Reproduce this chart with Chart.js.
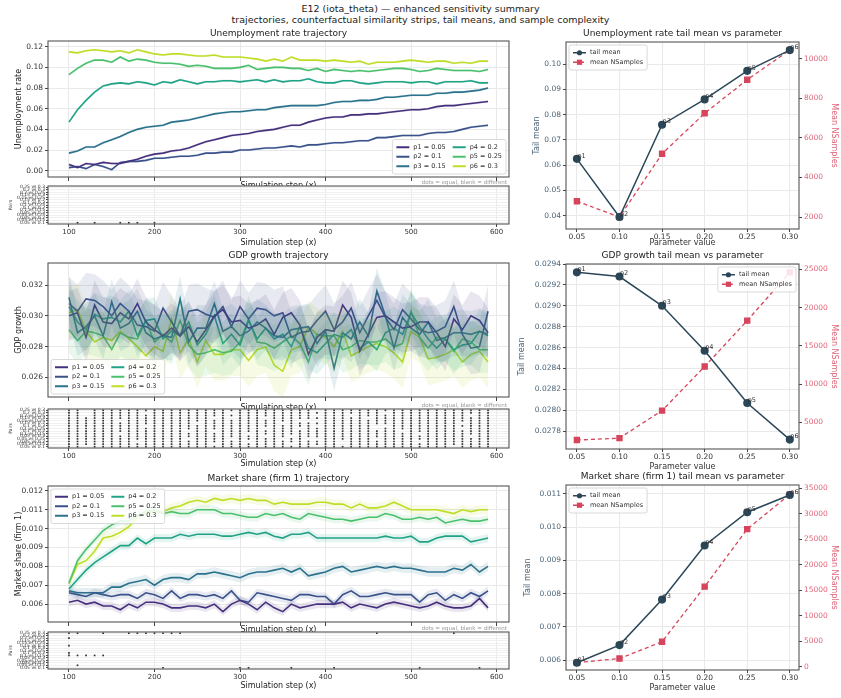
<!DOCTYPE html>
<html>
<head>
<meta charset="utf-8">
<script src="https://cdn.jsdelivr.net/npm/chart.js@4.4.0/dist/chart.umd.min.js"></script>
<style>
  body { margin: 0; width: 841px; height: 698px; position: relative; overflow: hidden; background: #fff; font-family: "DejaVu Sans", sans-serif; }
  canvas { position: absolute; }
  #suptitle { position: absolute; left: 0; top: 3px; width: 841px; text-align: center; font-size: 9.5px; line-height: 11px; color: #222; }
</style>
</head>
<body>
<div id="suptitle">E12 (iota_theta) — enhanced sensitivity summary<br>trajectories, counterfactual similarity strips, tail means, and sample complexity</div>
<script>
// ---- data ----
const steps = [100,110,120,130,140,150,160,170,180,190,200,210,220,230,240,250,260,270,280,290,
               300,310,320,330,340,350,360,370,380,390,400,410,420,430,440,450,460,470,480,490,
               500,510,520,530,540,550,560,570,580,590];
const xTicks = [100, 200, 300, 400, 500, 600];
const paramValues = [0.05, 0.1, 0.15, 0.2, 0.25, 0.3];
const paramNames = ['p1', 'p2', 'p3', 'p4', 'p5', 'p6'];
const seriesLabels = ['p1 = 0.05', 'p2 = 0.1', 'p3 = 0.15', 'p4 = 0.2', 'p5 = 0.25', 'p6 = 0.3'];
const pairLabels = ['0.05 vs 0.1','0.05 vs 0.15','0.05 vs 0.2','0.05 vs 0.25','0.05 vs 0.3',
                    '0.1 vs 0.15','0.1 vs 0.2','0.1 vs 0.25','0.1 vs 0.3','0.15 vs 0.2',
                    '0.15 vs 0.25','0.15 vs 0.3','0.2 vs 0.25','0.2 vs 0.3','0.25 vs 0.3'];

// unemployment rate trajectories
const unempP1 = [0.006,0.003,0.007,0.006,0.008,0.007,0.007,0.009,0.011,0.014,0.016,0.017,0.019,0.020,0.022,0.025,0.028,0.030,0.032,0.034,
                 0.035,0.036,0.038,0.039,0.040,0.042,0.044,0.044,0.047,0.049,0.051,0.052,0.052,0.054,0.054,0.055,0.055,0.056,0.057,0.058,
                 0.059,0.059,0.060,0.062,0.063,0.063,0.064,0.065,0.066,0.067];
const unempP2 = [0.003,0.004,0.002,0.006,0.004,0.001,0.008,0.009,0.009,0.010,0.012,0.012,0.013,0.014,0.014,0.015,0.017,0.017,0.018,0.018,
                 0.020,0.020,0.021,0.022,0.022,0.023,0.024,0.023,0.025,0.025,0.026,0.027,0.027,0.028,0.029,0.029,0.032,0.032,0.033,0.034,
                 0.034,0.034,0.036,0.037,0.037,0.038,0.040,0.042,0.043,0.044];
const unempP3 = [0.017,0.019,0.023,0.023,0.027,0.030,0.033,0.037,0.040,0.042,0.043,0.044,0.047,0.048,0.049,0.051,0.053,0.055,0.056,0.057,
                 0.057,0.058,0.059,0.059,0.061,0.062,0.063,0.063,0.063,0.063,0.064,0.066,0.067,0.067,0.068,0.068,0.069,0.071,0.071,0.072,
                 0.073,0.073,0.073,0.075,0.075,0.076,0.076,0.077,0.078,0.080];
const unempP4 = [0.047,0.059,0.068,0.076,0.082,0.084,0.085,0.084,0.086,0.085,0.083,0.086,0.085,0.088,0.086,0.084,0.086,0.086,0.087,0.087,
                 0.086,0.087,0.088,0.086,0.088,0.086,0.087,0.087,0.089,0.086,0.085,0.085,0.087,0.087,0.085,0.084,0.085,0.086,0.086,0.086,
                 0.085,0.086,0.086,0.084,0.086,0.086,0.086,0.087,0.085,0.085];
const unempP5 = [0.093,0.099,0.104,0.107,0.107,0.105,0.110,0.106,0.108,0.107,0.105,0.104,0.104,0.103,0.101,0.102,0.101,0.099,0.099,0.099,
                 0.100,0.102,0.098,0.099,0.100,0.100,0.099,0.099,0.097,0.099,0.096,0.098,0.097,0.096,0.097,0.096,0.097,0.098,0.099,0.099,
                 0.098,0.096,0.097,0.099,0.098,0.097,0.097,0.097,0.096,0.098];
const unempP6 = [0.115,0.114,0.116,0.117,0.116,0.115,0.116,0.114,0.117,0.115,0.113,0.112,0.113,0.113,0.112,0.111,0.111,0.112,0.110,0.110,
                 0.110,0.109,0.108,0.106,0.108,0.106,0.110,0.107,0.107,0.107,0.106,0.107,0.106,0.105,0.106,0.103,0.105,0.105,0.105,0.106,
                 0.107,0.106,0.105,0.106,0.106,0.104,0.105,0.104,0.106,0.106];
const unempSpread = [0.0012, 0.0012, 0.0012, 0.0012, 0.0012, 0.0012];

// GDP growth trajectories
const gdpP1 = [0.0300,0.0302,0.0286,0.0307,0.0296,0.0295,0.0302,0.0298,0.0308,0.0296,0.0291,0.0287,0.0292,0.0287,0.0293,0.0283,0.0291,0.0300,0.0304,0.0296,
               0.0297,0.0292,0.0294,0.0298,0.0288,0.0299,0.0302,0.0294,0.0275,0.0286,0.0291,0.0290,0.0307,0.0299,0.0277,0.0288,0.0299,0.0300,0.0296,0.0292,
               0.0293,0.0296,0.0296,0.0289,0.0280,0.0298,0.0291,0.0300,0.0297,0.0289];
const gdpP2 = [0.0308,0.0303,0.0311,0.0310,0.0306,0.0300,0.0308,0.0303,0.0294,0.0293,0.0290,0.0305,0.0296,0.0287,0.0303,0.0304,0.0301,0.0299,0.0306,0.0293,
               0.0306,0.0298,0.0305,0.0304,0.0300,0.0302,0.0286,0.0289,0.0290,0.0297,0.0303,0.0291,0.0296,0.0305,0.0289,0.0300,0.0310,0.0299,0.0291,0.0304,
               0.0298,0.0291,0.0289,0.0290,0.0293,0.0306,0.0288,0.0279,0.0280,0.0303];
const gdpP3 = [0.0312,0.0289,0.0293,0.0300,0.0287,0.0309,0.0292,0.0295,0.0303,0.0289,0.0285,0.0287,0.0286,0.0311,0.0283,0.0292,0.0292,0.0308,0.0290,0.0293,
               0.0287,0.0290,0.0296,0.0292,0.0287,0.0286,0.0291,0.0292,0.0293,0.0282,0.0290,0.0266,0.0289,0.0285,0.0296,0.0287,0.0316,0.0300,0.0279,0.0299,
               0.0292,0.0288,0.0296,0.0284,0.0286,0.0289,0.0289,0.0288,0.0290,0.0288];
const gdpP4 = [0.0306,0.0296,0.0291,0.0301,0.0298,0.0299,0.0296,0.0303,0.0287,0.0297,0.0298,0.0285,0.0290,0.0287,0.0296,0.0281,0.0288,0.0300,0.0282,0.0288,
               0.0281,0.0297,0.0285,0.0292,0.0285,0.0288,0.0280,0.0293,0.0279,0.0276,0.0282,0.0288,0.0286,0.0291,0.0279,0.0283,0.0278,0.0289,0.0292,0.0288,
               0.0302,0.0293,0.0285,0.0279,0.0285,0.0278,0.0281,0.0282,0.0290,0.0287];
const gdpP5 = [0.0291,0.0284,0.0290,0.0289,0.0287,0.0278,0.0289,0.0286,0.0285,0.0297,0.0283,0.0288,0.0283,0.0297,0.0281,0.0275,0.0276,0.0278,0.0276,0.0277,
               0.0283,0.0298,0.0283,0.0282,0.0279,0.0283,0.0287,0.0282,0.0270,0.0288,0.0287,0.0287,0.0278,0.0280,0.0284,0.0283,0.0283,0.0285,0.0280,0.0282,
               0.0303,0.0286,0.0279,0.0286,0.0285,0.0277,0.0285,0.0283,0.0278,0.0278];
const gdpP6 = [0.0302,0.0304,0.0290,0.0283,0.0286,0.0284,0.0290,0.0285,0.0280,0.0274,0.0280,0.0277,0.0298,0.0276,0.0285,0.0270,0.0284,0.0275,0.0275,0.0278,
               0.0278,0.0271,0.0278,0.0280,0.0268,0.0264,0.0278,0.0280,0.0293,0.0288,0.0286,0.0280,0.0290,0.0274,0.0277,0.0280,0.0282,0.0280,0.0276,0.0270,
               0.0290,0.0286,0.0272,0.0273,0.0275,0.0278,0.0270,0.0275,0.0277,0.0270];
const gdpSpread = [0.0016, 0.0017, 0.0015, 0.0014, 0.0015, 0.0017];

// market share (firm 1) trajectories
const shareP1 = [0.0061,0.0062,0.0060,0.0061,0.0059,0.0059,0.0057,0.0060,0.0058,0.0061,0.0061,0.0060,0.0058,0.0058,0.0059,0.0059,0.0058,0.0060,0.0056,0.0060,
                 0.0062,0.0060,0.0057,0.0061,0.0058,0.0056,0.0060,0.0058,0.0059,0.0060,0.0060,0.0060,0.0061,0.0058,0.0060,0.0059,0.0058,0.0060,0.0061,0.0060,
                 0.0059,0.0058,0.0059,0.0061,0.0059,0.0058,0.0058,0.0059,0.0063,0.0058];
const shareP2 = [0.0066,0.0065,0.0064,0.0066,0.0065,0.0064,0.0065,0.0065,0.0063,0.0066,0.0065,0.0063,0.0067,0.0063,0.0065,0.0065,0.0064,0.0065,0.0063,0.0067,
                 0.0062,0.0061,0.0066,0.0065,0.0064,0.0063,0.0062,0.0065,0.0065,0.0064,0.0064,0.0060,0.0065,0.0067,0.0064,0.0064,0.0065,0.0066,0.0065,0.0065,
                 0.0065,0.0061,0.0065,0.0066,0.0062,0.0065,0.0063,0.0066,0.0064,0.0067];
const shareP3 = [0.0067,0.0066,0.0066,0.0066,0.0066,0.0069,0.0069,0.0071,0.0072,0.0073,0.0070,0.0073,0.0074,0.0074,0.0073,0.0076,0.0076,0.0077,0.0076,0.0075,
                 0.0074,0.0076,0.0077,0.0077,0.0078,0.0079,0.0077,0.0079,0.0075,0.0076,0.0077,0.0079,0.0080,0.0077,0.0078,0.0079,0.0080,0.0079,0.0080,0.0079,
                 0.0079,0.0078,0.0077,0.0077,0.0077,0.0079,0.0078,0.0081,0.0077,0.0080];
const shareP4 = [0.0068,0.0073,0.0078,0.0082,0.0085,0.0088,0.0091,0.0091,0.0095,0.0092,0.0095,0.0095,0.0095,0.0097,0.0096,0.0097,0.0097,0.0097,0.0096,0.0096,
                 0.0097,0.0098,0.0097,0.0098,0.0096,0.0095,0.0097,0.0097,0.0098,0.0095,0.0095,0.0095,0.0095,0.0095,0.0095,0.0095,0.0095,0.0096,0.0095,0.0095,
                 0.0096,0.0093,0.0093,0.0095,0.0096,0.0096,0.0096,0.0093,0.0094,0.0095];
const shareP5 = [0.0071,0.0083,0.0089,0.0094,0.0099,0.0102,0.0104,0.0104,0.0107,0.0109,0.0110,0.0108,0.0109,0.0108,0.0108,0.0110,0.0110,0.0110,0.0108,0.0108,
                 0.0107,0.0106,0.0106,0.0108,0.0107,0.0108,0.0106,0.0105,0.0108,0.0107,0.0106,0.0105,0.0105,0.0104,0.0105,0.0106,0.0106,0.0108,0.0107,0.0105,
                 0.0105,0.0106,0.0105,0.0106,0.0103,0.0104,0.0105,0.0104,0.0104,0.0105];
const shareP6 = [0.0071,0.0081,0.0083,0.0088,0.0095,0.0096,0.0098,0.0101,0.0106,0.0108,0.0109,0.0109,0.0111,0.0112,0.0114,0.0115,0.0114,0.0116,0.0115,0.0116,
                 0.0115,0.0116,0.0115,0.0115,0.0113,0.0114,0.0113,0.0113,0.0113,0.0114,0.0114,0.0113,0.0113,0.0111,0.0113,0.0111,0.0111,0.0112,0.0114,0.0112,
                 0.0110,0.0110,0.0110,0.0110,0.0109,0.0108,0.0110,0.0109,0.0110,0.0110];
const shareSpread = [0.00022, 0.00022, 0.00025, 0.00022, 0.00022, 0.00025];

// similarity strips: steps where a pair is "equal" (pair index -> steps)
const unempEqual = { 0: [110, 130, 160, 170, 180, 200] };
const shareEqual = {
  0: [210, 300, 310, 360, 410, 510, 580],
  1: [110],
  5: [100, 110, 120, 130, 140],
  6: [100],
  9: [100],
  12: [100],
  14: [100, 110, 140, 170, 180, 190, 200, 210, 220, 230, 460, 550]
};
// GDP strip: one string per step, char k = pair k (1 = equal)
const gdpEqualCols = [
  '111111111111111','111111111111111','011111111111000','111111111111111','111111111111111',
  '111111111111111','111110111101111','111111111111111','110111111111111','111111110111101',
  '111111111111111','111111111111111','111111111111111','111111111111111','111011011111111',
  '111111111011111','111111111111111','101111011110111','111111111111111','111011111110101',
  '111111111111111','110110111111111','111111111111111','111101101110111','111111111111111',
  '111011111011111','101101111111111','111111101101111','111011111101111','011011110101010',
  '111111111111111','111111111111111','100111111111111','111111111111011','111111111111111',
  '111111111110111','111011100111111','111111110111101','111111111111111','111111011111111',
  '111111111111111','110110111111111','111111111111111','111111111111111','111111111111111',
  '011111111111111','111111101011111','111101111111011','111111111111111','111111111111111'
];

// tail means and sample complexity
const unempTail = [0.0625, 0.0395, 0.0760, 0.0860, 0.0973, 0.1055];
const unempNSamples = [2800, 2000, 5200, 7250, 8950, 10450];
const gdpTail = [0.02932, 0.02928, 0.02900, 0.02857, 0.02807, 0.02772];
const gdpNSamples = [2700, 2950, 6550, 12300, 18300, 24600];
const shareTail = [0.00592, 0.00645, 0.00782, 0.00945, 0.01045, 0.01097];
const shareNSamples = [800, 1600, 4900, 15700, 27000, 33800];

// ---- style ----
const seriesColors = ['#46307e', '#3b528b', '#2c728e', '#20a386', '#4ac16d', '#bddf26'];
const tailColor = '#2b4657';
const nsColor = '#d6455b';
const gridColor = '#e9e9e9';

Chart.defaults.font.family = '"DejaVu Sans", sans-serif';
Chart.defaults.color = '#333';
Chart.defaults.animation = false;

function withAlpha(hex, a) {
  const n = parseInt(hex.slice(1), 16);
  return 'rgba(' + (n >> 16) + ',' + ((n >> 8) & 255) + ',' + (n & 255) + ',' + a + ')';
}

function makeCanvas(left, top, w, h) {
  const c = document.createElement('canvas');
  c.width = w; c.height = h;
  c.style.left = left + 'px'; c.style.top = top + 'px';
  c.style.width = w + 'px'; c.style.height = h + 'px';
  document.body.appendChild(c);
  return c.getContext('2d');
}

// frame, panel title and the small note above strips
const framePlugin = {
  id: 'frame',
  beforeDraw(chart, args, o) {
    if (!o.white) return;
    const a = chart.chartArea, ctx = chart.ctx;
    ctx.save();
    ctx.fillStyle = '#fff';
    ctx.fillRect(a.left, a.top, a.width, a.height);
    ctx.restore();
  },
  afterDraw(chart, args, o) {
    const a = chart.chartArea, ctx = chart.ctx;
    ctx.save();
    ctx.strokeStyle = '#555';
    ctx.lineWidth = 1.1;
    ctx.strokeRect(a.left, a.top, a.width, a.height);
    if (o.title) {
      ctx.fillStyle = '#222';
      ctx.font = '9px "DejaVu Sans"';
      ctx.textAlign = 'center';
      ctx.textBaseline = 'middle';
      ctx.fillText(o.title, (a.left + a.right) / 2, a.top - o.titleGap);
    }
    if (o.note) {
      ctx.fillStyle = '#999';
      ctx.font = '5.5px "DejaVu Sans"';
      ctx.textAlign = 'right';
      ctx.textBaseline = 'bottom';
      ctx.fillText(o.note, a.right - 2, a.top - 1);
    }
    ctx.restore();
  }
};

// legend drawn in a box inside the plot area
const boxLegend = {
  id: 'boxLegend',
  afterDatasetsDraw(chart, args, o) {
    if (!o.items) return;
    const a = chart.chartArea, ctx = chart.ctx;
    ctx.save();
    ctx.font = '6.5px "DejaVu Sans"';
    const cols = o.cols || 1;
    const rows = Math.ceil(o.items.length / cols);
    const lineLen = 13, gap = 4, rowH = 9.5, padX = 4, padY = 3, colGap = 7;
    const colW = [];
    o.items.forEach((it, i) => {
      const c = Math.floor(i / rows);
      colW[c] = Math.max(colW[c] || 0, ctx.measureText(it.label).width);
    });
    let w = padX * 2 + colGap * (cols - 1);
    colW.forEach(cw => { w += lineLen + gap + cw; });
    const h = padY * 2 + rows * rowH;
    const inset = 3;
    const x0 = o.corner[1] === 'l' ? a.left + inset : a.right - inset - w;
    const y0 = o.corner[0] === 'u' ? a.top + inset : a.bottom - inset - h;
    ctx.fillStyle = 'rgba(255,255,255,0.85)';
    ctx.strokeStyle = '#cfcfcf';
    ctx.lineWidth = 0.8;
    ctx.beginPath();
    ctx.roundRect(x0, y0, w, h, 2);
    ctx.fill();
    ctx.stroke();
    o.items.forEach((it, i) => {
      const c = Math.floor(i / rows), r = i % rows;
      let x = x0 + padX;
      for (let k = 0; k < c; k++) x += lineLen + gap + colW[k] + colGap;
      const y = y0 + padY + r * rowH + rowH / 2;
      ctx.strokeStyle = it.color;
      ctx.lineWidth = it.width || 2;
      ctx.setLineDash(it.dash || []);
      ctx.beginPath();
      ctx.moveTo(x, y);
      ctx.lineTo(x + lineLen, y);
      ctx.stroke();
      ctx.setLineDash([]);
      ctx.fillStyle = it.color;
      if (it.marker === 'circle') {
        ctx.beginPath();
        ctx.arc(x + lineLen / 2, y, 2.6, 0, Math.PI * 2);
        ctx.fill();
      } else if (it.marker === 'rect') {
        ctx.fillRect(x + lineLen / 2 - 2.6, y - 2.6, 5.2, 5.2);
      }
      ctx.fillStyle = '#333';
      ctx.textAlign = 'left';
      ctx.textBaseline = 'middle';
      ctx.fillText(it.label, x + lineLen + gap, y);
    });
    ctx.restore();
  }
};

// "p1".."p6" labels next to the tail mean points
const pointNames = {
  id: 'pointNames',
  afterDatasetsDraw(chart, args, o) {
    if (!o.labels) return;
    const ctx = chart.ctx;
    const meta = chart.getDatasetMeta(o.datasetIndex);
    ctx.save();
    ctx.font = '6.5px "DejaVu Sans"';
    ctx.fillStyle = '#333';
    ctx.textAlign = 'left';
    ctx.textBaseline = 'middle';
    meta.data.forEach((el, i) => ctx.fillText(o.labels[i], el.x + 0.5, el.y - 3));
    ctx.restore();
  }
};

Chart.register(framePlugin, boxLegend, pointNames);

const tickFont = { size: 7.5 };

function trajectoryChart(pos, series, spread, yMin, yMax, yTicks, digits, yTitle, title, corner) {
  const datasets = [];
  series.forEach((vals, i) => {
    datasets.push({
      data: steps.map((s, k) => ({ x: s, y: vals[k] + spread[i] })),
      borderWidth: 0, pointRadius: 0, fill: '+1',
      backgroundColor: withAlpha(seriesColors[i], 0.12)
    });
    datasets.push({
      data: steps.map((s, k) => ({ x: s, y: vals[k] - spread[i] })),
      borderWidth: 0, pointRadius: 0, fill: false
    });
  });
  series.forEach((vals, i) => {
    datasets.push({
      data: steps.map((s, k) => ({ x: s, y: vals[k] })),
      borderColor: seriesColors[i], borderWidth: 1.6, pointRadius: 0, fill: false
    });
  });
  const ctx = makeCanvas(pos.left, pos.top, pos.w, pos.h);
  return new Chart(ctx, {
    type: 'line',
    data: { datasets: datasets },
    options: {
      responsive: false,
      layout: { padding: { top: pos.padTop, right: pos.padRight, left: 0, bottom: 0 } },
      scales: {
        x: {
          type: 'linear', min: 75.5, max: 614.5,
          afterBuildTicks: s => { s.ticks = xTicks.map(v => ({ value: v })); },
          ticks: { display: false },
          grid: { color: gridColor, tickColor: '#444', tickLength: 4 },
          border: { display: false },
          title: { display: true, text: 'Simulation step (x)', font: { size: 8 }, color: '#222', padding: { top: 0, bottom: 2 } },
          afterFit: s => { s.height = pos.xH; }
        },
        y: {
          min: yMin, max: yMax,
          afterBuildTicks: s => { s.ticks = yTicks.map(v => ({ value: v })); },
          ticks: { font: tickFont, padding: 2, callback: v => v.toFixed(digits) },
          grid: { color: gridColor, tickColor: '#444', tickLength: 3 },
          border: { display: false },
          title: { display: true, text: yTitle, font: { size: 8 }, color: '#222', padding: { top: 14, bottom: 0 } },
          afterFit: s => { s.width = 48; }
        }
      },
      plugins: {
        legend: { display: false },
        tooltip: { enabled: false },
        frame: { title: title, titleGap: 7 },
        boxLegend: {
          corner: corner, cols: 2,
          items: seriesLabels.map((l, i) => ({ label: l, color: seriesColors[i] }))
        }
      }
    }
  });
}

function stripChart(pos, points) {
  const ctx = makeCanvas(pos.left, pos.top, pos.w, pos.h);
  return new Chart(ctx, {
    type: 'scatter',
    data: {
      datasets: [{
        data: points,
        pointStyle: 'rect', pointRadius: 1.2, borderWidth: 0,
        backgroundColor: '#333'
      }]
    },
    options: {
      responsive: false,
      layout: { padding: { top: pos.padTop, right: pos.padRight, left: 0, bottom: 0 } },
      scales: {
        x: {
          type: 'linear', min: 75.5, max: 614.5,
          afterBuildTicks: s => { s.ticks = xTicks.map(v => ({ value: v })); },
          ticks: { font: { size: 7 }, padding: 1, maxRotation: 0 },
          grid: { color: gridColor, tickColor: '#444', tickLength: 3 },
          border: { display: false },
          title: { display: true, text: 'Simulation step (x)', font: { size: 8 }, color: '#222', padding: { top: 0, bottom: 2 } },
          afterFit: s => { s.height = pos.xH; }
        },
        y: {
          min: -0.5, max: 14.5,
          afterBuildTicks: s => { s.ticks = pairLabels.map((l, i) => ({ value: i })); },
          ticks: { font: { size: 4.5 }, padding: 1, autoSkip: false, callback: v => pairLabels[v] },
          grid: { color: '#f0f0f0', tickColor: '#444', tickLength: 2 },
          border: { display: false },
          title: { display: true, text: 'Pairs', font: { size: 4.5 }, color: '#222', padding: { top: 8, bottom: 0 } },
          afterFit: s => { s.width = 48; }
        }
      },
      plugins: {
        legend: { display: false },
        tooltip: { enabled: false },
        frame: { white: true, note: 'dots = equal, blank = different' }
      }
    }
  });
}

function tailChart(pos, tail, nsamp, yL, yR, leftTicks, leftDigits, rightTicks, title, corner) {
  const ctx = makeCanvas(pos.left, pos.top, pos.w, pos.h);
  return new Chart(ctx, {
    type: 'line',
    data: {
      datasets: [
        {
          label: 'tail mean', yAxisID: 'y', order: 0,
          data: paramValues.map((p, i) => ({ x: p, y: tail[i] })),
          borderColor: tailColor, backgroundColor: tailColor, borderWidth: 1.5,
          pointStyle: 'circle', pointRadius: 3.3, fill: false
        },
        {
          label: 'mean NSamples', yAxisID: 'y2', order: 1,
          data: paramValues.map((p, i) => ({ x: p, y: nsamp[i] })),
          borderColor: nsColor, backgroundColor: nsColor, borderWidth: 1.3, borderDash: [4, 3],
          pointStyle: 'rect', pointRadius: 3.6, fill: false
        }
      ]
    },
    options: {
      responsive: false,
      layout: { padding: { top: pos.padTop, right: 0, left: 0, bottom: 0 } },
      scales: {
        x: {
          type: 'linear', min: 0.0372, max: 0.3108,
          afterBuildTicks: s => { s.ticks = paramValues.map(v => ({ value: v })); },
          ticks: { font: tickFont, padding: 1, callback: v => v.toFixed(2) },
          grid: { color: gridColor, tickColor: '#444', tickLength: 3 },
          border: { display: false },
          title: { display: true, text: 'Parameter value', font: { size: 8 }, color: '#333', padding: { top: 0, bottom: 2 } },
          afterFit: s => { s.height = pos.xH; }
        },
        y: {
          position: 'left', min: yL[0], max: yL[1],
          afterBuildTicks: s => { s.ticks = leftTicks.map(v => ({ value: v })); },
          ticks: { font: tickFont, color: '#4d6577', padding: 2, callback: v => v.toFixed(leftDigits) },
          grid: { color: gridColor, tickColor: '#444', tickLength: 3 },
          border: { display: false },
          title: { display: true, text: 'Tail mean', font: { size: 8 }, color: '#4d6577', padding: { top: pos.leftTitlePad, bottom: 0 } },
          afterFit: s => { s.width = pos.yW; }
        },
        y2: {
          position: 'right', min: yR[0], max: yR[1],
          afterBuildTicks: s => { s.ticks = rightTicks.map(v => ({ value: v })); },
          ticks: { font: tickFont, color: '#e0677a', padding: 2, callback: v => String(v) },
          grid: { drawOnChartArea: false, tickColor: '#444', tickLength: 3 },
          border: { display: false },
          title: { display: true, text: 'Mean NSamples', font: { size: 8 }, color: '#e0677a', padding: { top: 2, bottom: 0 } },
          afterFit: s => { s.width = 42; }
        }
      },
      plugins: {
        legend: { display: false },
        tooltip: { enabled: false },
        frame: { title: title, titleGap: 8 },
        boxLegend: {
          corner: corner, cols: 1,
          items: [
            { label: 'tail mean', color: tailColor, marker: 'circle', width: 1.5 },
            { label: 'mean NSamples', color: nsColor, marker: 'rect', width: 1.3, dash: [4, 3] }
          ]
        },
        pointNames: { datasetIndex: 0, labels: paramNames }
      }
    }
  });
}

// strip points built from the equality tables
function pairPoints(table) {
  const pts = [];
  Object.keys(table).forEach(k => table[k].forEach(s => pts.push({ x: s, y: Number(k) })));
  return pts;
}
function columnPoints(cols) {
  const pts = [];
  cols.forEach((str, c) => {
    for (let k = 0; k < str.length; k++) if (str[k] === '1') pts.push({ x: steps[c], y: k });
  });
  return pts;
}

// ---- row 1: unemployment ----
trajectoryChart({ left: 0, top: 26, w: 520, h: 167, padTop: 15, padRight: 11, xH: 16 },
  [unempP1, unempP2, unempP3, unempP4, unempP5, unempP6], unempSpread,
  -0.0061, 0.1255, [0, 0.02, 0.04, 0.06, 0.08, 0.1, 0.12], 2,
  'Unemployment rate', 'Unemployment rate trajectory', 'lr');
stripChart({ left: 0, top: 176, w: 520, h: 74, padTop: 10, padRight: 11, xH: 26 }, pairPoints(unempEqual));
tailChart({ left: 510, top: 26, w: 331, h: 224, padTop: 16, xH: 21, yW: 56, leftTitlePad: 22 },
  unempTail, unempNSamples, [0.03475, 0.1087], [1394, 10859],
  [0.04, 0.05, 0.06, 0.07, 0.08, 0.09, 0.10], 2, [2000, 4000, 6000, 8000, 10000],
  'Unemployment rate tail mean vs parameter', 'ul');

// ---- row 2: GDP growth ----
trajectoryChart({ left: 0, top: 248, w: 520, h: 167, padTop: 15, padRight: 11, xH: 18 },
  [gdpP1, gdpP2, gdpP3, gdpP4, gdpP5, gdpP6], gdpSpread,
  0.02473, 0.03343, [0.026, 0.028, 0.030, 0.032], 3,
  'GDP growth', 'GDP growth trajectory', 'll');
stripChart({ left: 0, top: 399, w: 520, h: 72, padTop: 10, padRight: 11, xH: 23 }, columnPoints(gdpEqualCols));
tailChart({ left: 510, top: 248, w: 331, h: 226, padTop: 16, xH: 25, yW: 56, leftTitlePad: 7 },
  gdpTail, gdpNSamples, [0.02763, 0.0294], [1531, 25694],
  [0.0278, 0.0280, 0.0282, 0.0284, 0.0286, 0.0288, 0.0290, 0.0292, 0.0294], 4, [5000, 10000, 15000, 20000, 25000],
  'GDP growth tail mean vs parameter', 'ur');

// ---- row 3: market share ----
trajectoryChart({ left: 0, top: 470, w: 520, h: 167, padTop: 16, padRight: 11, xH: 15 },
  [shareP1, shareP2, shareP3, shareP4, shareP5, shareP6], shareSpread,
  0.00505, 0.01226, [0.006, 0.007, 0.008, 0.009, 0.010, 0.011, 0.012], 3,
  'Market share (firm 1)', 'Market share (firm 1) trajectory', 'ul');
stripChart({ left: 0, top: 622, w: 520, h: 71, padTop: 10, padRight: 11, xH: 24 }, pairPoints(shareEqual));
tailChart({ left: 510, top: 469, w: 331, h: 226, padTop: 16, xH: 25, yW: 56, leftTitlePad: 13 },
  shareTail, shareNSamples, [0.0057, 0.01127], [-650, 35650],
  [0.006, 0.007, 0.008, 0.009, 0.010, 0.011], 3, [0, 5000, 10000, 15000, 20000, 25000, 30000, 35000],
  'Market share (firm 1) tail mean vs parameter', 'ul');
</script>
</body>
</html>
